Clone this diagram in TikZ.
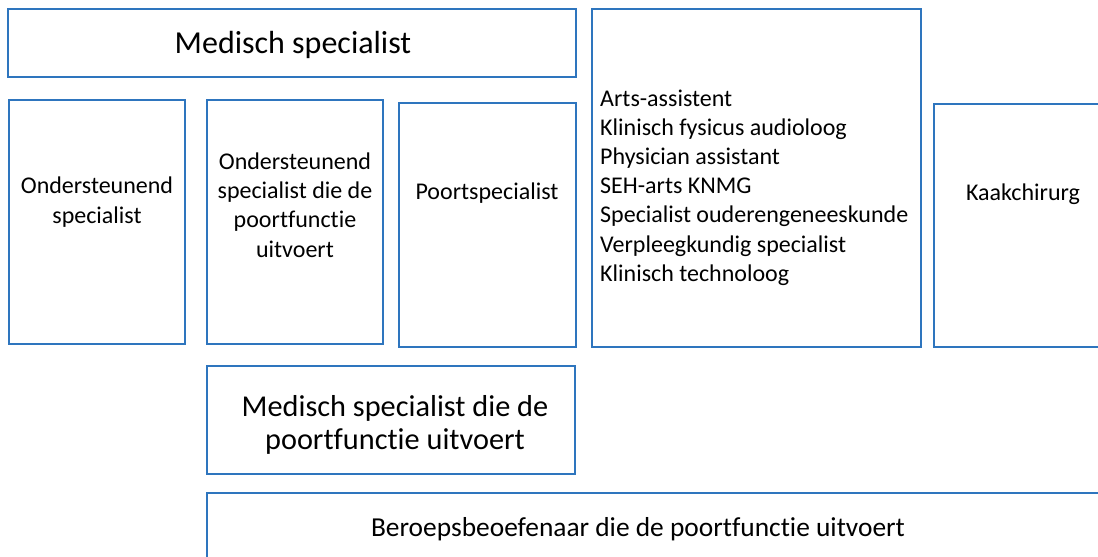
\documentclass[tikz,border=0pt]{standalone}
\usepackage{fontspec}
\setmainfont{Carlito}[Ligatures=NoCommon]
\definecolor{boxblue}{RGB}{46,117,190}
\begin{document}
\begin{tikzpicture}[x=1pt,y=-1pt,
  box/.style={draw=boxblue,line width=1.2pt,fill=white},
  small/.style={font=\fontsize{24}{29.2}\selectfont,align=center,inner sep=0pt},
  big/.style={font=\fontsize{32}{32.5}\selectfont,align=center,inner sep=0pt},
  mid/.style={font=\fontsize{30.3}{32.5}\selectfont,align=center,inner sep=0pt},
  low/.style={font=\fontsize{27.4}{32}\selectfont,align=center,inner sep=0pt}]
\useasboundingbox (0,0) rectangle (1098,557);
\draw[box] (8,9) rectangle (576,77) node[midway] (ms) {};
\node[big] (mst) at (293,45) {Medisch specialist};
\draw[box] (9,100) rectangle (185,344) node[midway] (os) {};
\node[small] (ost) at (97,202) {Ondersteunend\\specialist};
\draw[box] (207,100) rectangle (383,344) node[midway] (osp) {};
\node[small] (ospt) at (295,205) {Ondersteunend\\specialist die de\\poortfunctie\\uitvoert};
\draw[box] (399,103) rectangle (576,347) node[midway] (ps) {};
\node[small] (pst) at (487,193) {Poortspecialist};
\draw[box] (592,9) rectangle (921,347) node[midway] (lst) {};
\node[small,align=left,anchor=west] (lstt) at (600,187.5) {Arts-assistent\\Klinisch fysicus audioloog\\Physician assistant\\SEH-arts KNMG\\Specialist ouderengeneeskunde\\Verpleegkundig specialist\\Klinisch technoloog};
\draw[box] (934,104) rectangle (1110,347) node[midway] (kc) {};
\node[small] (kct) at (1023,194) {Kaakchirurg};
\draw[box] (207,366) rectangle (575,474) node[midway] (msp) {};
\node[mid] (mspt) at (395,425) {Medisch specialist die de\\poortfunctie uitvoert};
\draw[box] (207,493) rectangle (1110,575) node[midway] (bb) {};
\node[low] (bbt) at (638,529) {Beroepsbeoefenaar die de poortfunctie uitvoert};
\end{tikzpicture}
\end{document}
